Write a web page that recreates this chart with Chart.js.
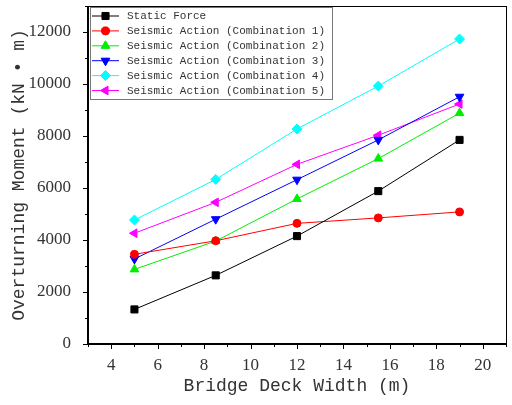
<!DOCTYPE html>
<html>
<head>
<meta charset="utf-8">
<script src="https://cdn.jsdelivr.net/npm/chart.js@4"></script>
<style>
  html, body { margin: 0; padding: 0; background: #fff; }
  #wrap { width: 512px; height: 405px; }
</style>
</head>
<body>
<div id="wrap"><canvas id="momentChart" width="512" height="405"></canvas></div>
<script>
// deck width (m) and overturning moment (kN·m) per load case
const deckWidth = [5, 8.5, 12, 15.5, 19];
const staticForce = [1330, 2640, 4150, 5880, 7850];
const combo1 = [3450, 3970, 4640, 4850, 5080];
const combo2 = [2870, 3960, 5580, 7130, 8880];
const combo3 = [3270, 4800, 6320, 7850, 9510];
const combo4 = [4770, 6330, 8270, 9920, 11730];
const combo5 = [4260, 5450, 6910, 8030, 9230];

const xTicks = [4, 6, 8, 10, 12, 14, 16, 18, 20];
const yTicks = [0, 2000, 4000, 6000, 8000, 10000, 12000];

const seriesNames = [
  'Static Force',
  'Seismic Action (Combination 1)',
  'Seismic Action (Combination 2)',
  'Seismic Action (Combination 3)',
  'Seismic Action (Combination 4)',
  'Seismic Action (Combination 5)'
];

const monoFont = '"Liberation Mono", "DejaVu Sans Mono", monospace';
const serifFont = '"Liberation Serif", "DejaVu Serif", serif';

const styles = [
  { color: '#000000', point: 'rect', radius: 5, rotation: 0 },
  { color: '#ff0000', point: 'circle', radius: 4, rotation: 0 },
  { color: '#00ee00', point: 'triangle', radius: 5, rotation: 0 },
  { color: '#0000ff', point: 'triangle', radius: 5, rotation: 180 },
  { color: '#00ffff', point: 'rectRot', radius: 5, rotation: 0 },
  { color: '#ff00ff', point: 'triangle', radius: 5, rotation: -90 }
];

const allSeries = [staticForce, combo1, combo2, combo3, combo4, combo5];

const datasets = allSeries.map((vals, i) => ({
  label: seriesNames[i],
  data: vals.map((v, j) => ({ x: deckWidth[j], y: v })),
  borderColor: styles[i].color,
  backgroundColor: styles[i].color,
  borderWidth: 1,
  pointStyle: styles[i].point,
  pointRadius: styles[i].radius,
  pointRotation: styles[i].rotation,
  pointBorderWidth: 1,
  tension: 0
}));

// frame around the plot plus major/minor outward ticks
const framePlugin = {
  id: 'frame',
  afterDraw(chart) {
    const { ctx, chartArea: a, scales } = chart;
    ctx.save();
    ctx.strokeStyle = '#000';
    ctx.lineWidth = 1;
    ctx.strokeRect(a.left + 0.5, a.top + 0.5, a.right - a.left, a.bottom - a.top);
    ctx.lineWidth = 2;
    ctx.beginPath();
    ctx.moveTo(a.left, a.top);
    ctx.lineTo(a.left, a.bottom);
    ctx.lineTo(a.right, a.bottom);
    ctx.stroke();
    ctx.lineWidth = 1;
    ctx.beginPath();
    for (let v = 0; v <= 13000; v += 1000) {
      const y = Math.round(scales.y.getPixelForValue(v)) + 0.5;
      const len = v % 2000 === 0 ? 5 : 3;
      ctx.moveTo(a.left - len, y);
      ctx.lineTo(a.left, y);
    }
    for (let v = 3; v <= 21; v += 1) {
      const x = Math.round(scales.x.getPixelForValue(v)) + 0.5;
      const len = v % 2 === 0 ? 5 : 3;
      ctx.moveTo(x, a.bottom);
      ctx.lineTo(x, a.bottom + len);
    }
    ctx.stroke();
    ctx.restore();
  }
};

// boxed legend in the upper-left corner of the plot
const legendPlugin = {
  id: 'boxLegend',
  afterDraw(chart) {
    const { ctx } = chart;
    const left = 90, top = 7, w = 242, h = 92;
    ctx.save();
    ctx.fillStyle = '#fff';
    ctx.fillRect(left, top, w, h);
    ctx.strokeStyle = '#777';
    ctx.lineWidth = 1;
    ctx.strokeRect(left + 0.5, top + 0.5, w, h);
    ctx.font = '11px ' + monoFont;
    ctx.textBaseline = 'middle';
    chart.data.datasets.forEach((ds, i) => {
      const y = 16 + i * 14.9;
      ctx.strokeStyle = ds.borderColor;
      ctx.beginPath();
      ctx.moveTo(92, y);
      ctx.lineTo(119, y);
      ctx.stroke();
      ctx.fillStyle = ds.backgroundColor;
      Chart.helpers.drawPoint(ctx, {
        pointStyle: ds.pointStyle,
        radius: ds.pointRadius,
        rotation: ds.pointRotation,
        borderWidth: 1
      }, 105.5, y);
      ctx.fill();
      ctx.fillStyle = '#333';
      ctx.fillText(ds.label, 127, y + 0.5);
    });
    ctx.restore();
  }
};

new Chart(document.getElementById('momentChart'), {
  type: 'line',
  data: { datasets },
  options: {
    responsive: false,
    animation: false,
    layout: { padding: { top: 6, right: 4, left: 0, bottom: 0 } },
    plugins: { legend: { display: false }, tooltip: { enabled: false } },
    scales: {
      x: {
        type: 'linear',
        min: 3,
        max: 21,
        afterBuildTicks: s => { s.ticks = xTicks.map(v => ({ value: v })); },
        afterFit: s => { s.height = 61; s.paddingLeft = 0; s.paddingRight = 0; },
        border: { display: false },
        grid: { display: false },
        ticks: {
          color: '#333',
          font: { family: serifFont, size: 17 },
          padding: 3,
          callback: v => String(v)
        },
        title: {
          display: true,
          text: 'Bridge Deck Width (m)',
          color: '#333',
          font: { family: monoFont, size: 18 },
          padding: { top: 0, bottom: 8 }
        }
      },
      y: {
        min: 0,
        max: 13000,
        afterBuildTicks: s => { s.ticks = yTicks.map(v => ({ value: v })); },
        afterFit: s => { s.width = 88; s.paddingTop = 0; s.paddingBottom = 0; },
        border: { display: false },
        grid: { display: false },
        ticks: {
          color: '#333',
          font: { family: serifFont, size: 17 },
          padding: 9,
          callback: v => String(v)
        },
        title: {
          display: true,
          text: 'Overturning Moment (kN • m)',
          color: '#333',
          font: { family: monoFont, size: 18 },
          padding: { top: 8, bottom: 0 }
        }
      }
    }
  },
  plugins: [framePlugin, legendPlugin]
});
</script>
</body>
</html>
